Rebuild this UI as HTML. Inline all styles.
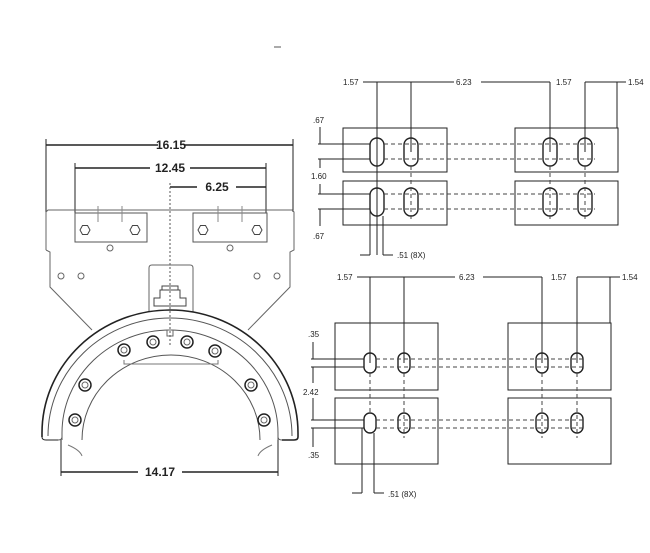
<!DOCTYPE html>
<html><head><meta charset="utf-8"><style>
html,body{margin:0;padding:0;background:#fff;}
svg{display:block;font-family:"Liberation Sans",sans-serif;}
</style></head><body>
<svg width="650" height="553" viewBox="0 0 650 553" xmlns="http://www.w3.org/2000/svg">
<g stroke="#222" fill="none" stroke-width="1">
<line x1="274" y1="47" x2="281" y2="47" stroke="#555"/>
<!-- left drawing dims -->
<line x1="46" y1="145" x2="158" y2="145" stroke-width="1.4"/><line x1="184" y1="145" x2="293" y2="145" stroke-width="1.4"/>
<line x1="46" y1="139" x2="46" y2="212"/><line x1="293" y1="139" x2="293" y2="212"/>
<line x1="75" y1="168" x2="150" y2="168" stroke-width="1.4"/><line x1="190" y1="168" x2="266" y2="168" stroke-width="1.4"/>
<line x1="75" y1="163" x2="75" y2="213"/><line x1="266" y1="163" x2="266" y2="213"/>
<line x1="170" y1="187" x2="197" y2="187" stroke-width="1.4"/><line x1="236" y1="187" x2="266" y2="187" stroke-width="1.4"/>
<line x1="170" y1="183" x2="170" y2="345" stroke-dasharray="2,2" stroke="#555"/>
<!-- plate -->
<path d="M46 212 L48 210 L292 210 L294 212 L294 250 L290 252 L290 287 L248 330 M46 250 L50 252 L50 287 L92 330 M46 212 L46 250 M294 212 L294 250" stroke="#666"/>
<rect x="75" y="213" width="72" height="29" stroke="#555"/>
<rect x="193" y="213" width="74" height="29" stroke="#555"/>
<g stroke="#888"><line x1="98" y1="206" x2="98" y2="222"/><line x1="122" y1="206" x2="122" y2="222"/><line x1="218" y1="206" x2="218" y2="222"/><line x1="242" y1="206" x2="242" y2="222"/></g>
<g stroke="#444">
<polygon points="80,230 82.5,225.5 87.5,225.5 90,230 87.5,234.5 82.5,234.5"/>
<polygon points="130,230 132.5,225.5 137.5,225.5 140,230 137.5,234.5 132.5,234.5"/>
<polygon points="198,230 200.5,225.5 205.5,225.5 208,230 205.5,234.5 200.5,234.5"/>
<polygon points="252,230 254.5,225.5 259.5,225.5 262,230 259.5,234.5 254.5,234.5"/>
</g>
<g stroke="#666"><circle cx="110" cy="248" r="3"/><circle cx="230" cy="248" r="3"/>
<circle cx="61" cy="276" r="3"/><circle cx="81" cy="276" r="3"/><circle cx="257" cy="276" r="3"/><circle cx="277" cy="276" r="3"/></g>
<path d="M149 312 L149 268 Q149 265 152 265 L190 265 Q193 265 193 268 L193 312" stroke="#666"/>
<path d="M154 306 L154 298 L160 298 L160 290 L180 290 L180 298 L186 298 L186 306 Z M162 290 L162 286 L178 286 L178 290" stroke="#444"/>
<!-- ring -->
<path d="M42 437 L42 433 A128 123 0 0 1 298 433 L298 437 Q298 440 294 440 L282 440" stroke-width="1.6"/>
<path d="M42 437 Q42 440 46 440 L58 440"/>
<path d="M48 436 A122 118 0 0 1 292 436" stroke="#555"/>
<path d="M62 440 L62 433 A108 103 0 0 1 278 433 L278 440" stroke="#555"/>
<path d="M58 440 Q62 440 62 437 M282 440 Q278 440 278 437" stroke="#555"/>
<path d="M82 440 A89 85 0 0 1 260 440" stroke="#555"/>
<path d="M124 360 L124 364 L218 364 L218 360" stroke="#777"/>
<path d="M68 445 Q80 450 82 456 M272 445 Q260 450 258 456" stroke="#777"/>
<g stroke-width="1.5">
<circle cx="75" cy="420" r="6"/><circle cx="85" cy="385" r="6"/><circle cx="124" cy="350" r="6"/><circle cx="153" cy="342" r="6"/>
<circle cx="187" cy="342" r="6"/><circle cx="215" cy="351" r="6"/><circle cx="251" cy="385" r="6"/><circle cx="264" cy="420" r="6"/>
</g>
<g stroke="#666"><circle cx="75" cy="420" r="3"/><circle cx="85" cy="385" r="3"/><circle cx="124" cy="350" r="3"/><circle cx="153" cy="342" r="3"/>
<circle cx="187" cy="342" r="3"/><circle cx="215" cy="351" r="3"/><circle cx="251" cy="385" r="3"/><circle cx="264" cy="420" r="3"/>
<rect x="167" y="330" width="6" height="6"/></g>
<line x1="61" y1="440" x2="61" y2="476"/><line x1="278" y1="440" x2="278" y2="476"/>
<line x1="61" y1="472" x2="138" y2="472" stroke-width="1.4"/><line x1="182" y1="472" x2="278" y2="472" stroke-width="1.4"/>
</g>
<g font-size="12" font-weight="bold" fill="#222" text-anchor="middle">
<text x="171" y="149">16.15</text><text x="170" y="172">12.45</text><text x="217" y="191">6.25</text><text x="160" y="476">14.17</text>
</g>

<!-- upper right -->
<g stroke="#222" fill="none" stroke-width="1">
<line x1="363" y1="82" x2="454" y2="82"/><line x1="481" y1="82" x2="550" y2="82"/><line x1="585" y1="82" x2="626" y2="82"/>
<line x1="377" y1="82" x2="377" y2="255"/><line x1="411" y1="82" x2="411" y2="152"/>
<line x1="550" y1="82" x2="550" y2="152"/><line x1="585" y1="82" x2="585" y2="152"/><line x1="617" y1="82" x2="617" y2="128"/>
<rect x="343" y="128" width="104" height="44"/><rect x="343" y="181" width="104" height="44"/>
<rect x="515" y="128" width="103" height="44"/><rect x="515" y="181" width="103" height="44"/>
<g stroke-width="1.4">
<rect x="370" y="138" width="14" height="28" rx="7"/><rect x="404" y="138" width="14" height="28" rx="7"/>
<rect x="543" y="138" width="14" height="28" rx="7"/><rect x="578" y="138" width="14" height="28" rx="7"/>
<rect x="370" y="188" width="14" height="28" rx="7"/><rect x="404" y="188" width="14" height="28" rx="7"/>
<rect x="543" y="188" width="14" height="28" rx="7"/><rect x="578" y="188" width="14" height="28" rx="7"/>
</g>
<g stroke-dasharray="4,3" stroke="#444">
<line x1="384" y1="144" x2="595" y2="144"/><line x1="384" y1="159" x2="595" y2="159"/>
<line x1="384" y1="194" x2="595" y2="194"/><line x1="384" y1="209" x2="595" y2="209"/>
<line x1="411" y1="166" x2="411" y2="220"/><line x1="550" y1="166" x2="550" y2="220"/><line x1="585" y1="166" x2="585" y2="220"/>
</g>
<line x1="318" y1="144" x2="370" y2="144"/><line x1="318" y1="159" x2="370" y2="159"/>
<line x1="318" y1="194" x2="370" y2="194"/><line x1="318" y1="209" x2="370" y2="209"/>
<line x1="320" y1="127" x2="320" y2="144"/><line x1="320" y1="159" x2="320" y2="168"/><line x1="320" y1="184" x2="320" y2="194"/><line x1="320" y1="209" x2="320" y2="226"/>
<line x1="370" y1="209" x2="370" y2="255"/><line x1="383" y1="216" x2="383" y2="255"/>
<line x1="360" y1="255" x2="370" y2="255"/><line x1="383" y1="255" x2="393" y2="255"/>
</g>
<g font-size="8" fill="#222">
<text x="343" y="85">1.57</text><text x="456" y="85">6.23</text><text x="556" y="85">1.57</text><text x="628" y="85">1.54</text>
<text x="313" y="123">.67</text><text x="311" y="179">1.60</text><text x="313" y="239">.67</text><text x="397" y="258">.51 (8X)</text>
</g>

<!-- lower right -->
<g stroke="#222" fill="none" stroke-width="1">
<line x1="357" y1="277" x2="455" y2="277"/><line x1="483" y1="277" x2="542" y2="277"/><line x1="577" y1="277" x2="620" y2="277"/>
<line x1="370" y1="277" x2="370" y2="363"/><line x1="404" y1="277" x2="404" y2="363"/>
<line x1="542" y1="277" x2="542" y2="363"/><line x1="577" y1="277" x2="577" y2="363"/><line x1="610" y1="277" x2="610" y2="323"/>
<rect x="335" y="323" width="103" height="67"/><rect x="335" y="398" width="103" height="66"/>
<rect x="508" y="323" width="103" height="67"/><rect x="508" y="398" width="103" height="66"/>
<g stroke-width="1.4">
<rect x="364" y="353" width="12" height="20" rx="6"/><rect x="398" y="353" width="12" height="20" rx="6"/>
<rect x="536" y="353" width="12" height="20" rx="6"/><rect x="571" y="353" width="12" height="20" rx="6"/>
<rect x="364" y="413" width="12" height="20" rx="6"/><rect x="398" y="413" width="12" height="20" rx="6"/>
<rect x="536" y="413" width="12" height="20" rx="6"/><rect x="571" y="413" width="12" height="20" rx="6"/>
</g>
<g stroke-dasharray="4,3" stroke="#444">
<line x1="376" y1="359" x2="586" y2="359"/><line x1="376" y1="367" x2="586" y2="367"/>
<line x1="376" y1="420" x2="586" y2="420"/><line x1="376" y1="428" x2="586" y2="428"/>
<line x1="370" y1="373" x2="370" y2="413"/><line x1="404" y1="373" x2="404" y2="438"/><line x1="542" y1="373" x2="542" y2="438"/><line x1="577" y1="373" x2="577" y2="438"/>
</g>
<line x1="311" y1="359" x2="364" y2="359"/><line x1="311" y1="367" x2="364" y2="367"/>
<line x1="311" y1="420" x2="364" y2="420"/><line x1="311" y1="428" x2="364" y2="428"/>
<line x1="313" y1="342" x2="313" y2="359"/><line x1="313" y1="367" x2="313" y2="383"/><line x1="313" y1="398" x2="313" y2="420"/><line x1="313" y1="428" x2="313" y2="447"/>
<line x1="362" y1="428" x2="362" y2="493"/><line x1="374" y1="433" x2="374" y2="493"/>
<line x1="352" y1="493" x2="362" y2="493"/><line x1="374" y1="493" x2="384" y2="493"/>
</g>
<g font-size="8" fill="#222">
<text x="337" y="280">1.57</text><text x="459" y="280">6.23</text><text x="551" y="280">1.57</text><text x="622" y="280">1.54</text>
<text x="308" y="337">.35</text><text x="303" y="395">2.42</text><text x="308" y="458">.35</text><text x="388" y="497">.51 (8X)</text>
</g>
</svg>
</body></html>
